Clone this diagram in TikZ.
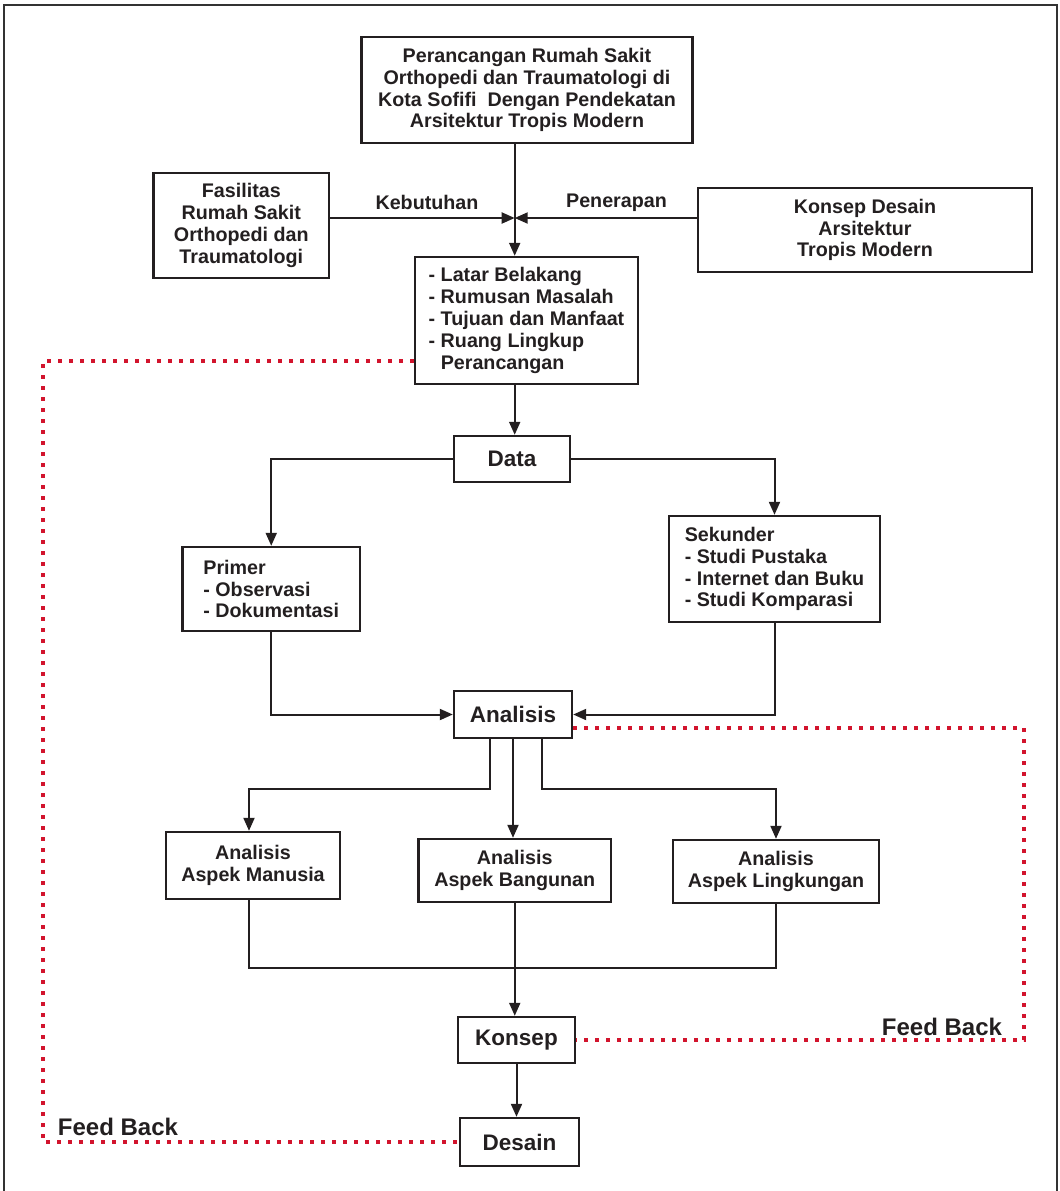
\documentclass[tikz,border=0pt]{standalone}
\usepackage{fontspec}
\setmainfont{Liberation Sans}
\usetikzlibrary{arrows.meta}
\definecolor{garis}{RGB}{35,31,32}
\definecolor{umpan}{RGB}{210,20,45}

\begin{document}
\begin{tikzpicture}[x=0.5pt, y=-0.5pt,
  every node/.style={font=\bfseries\fontsize{9.85}{10.9}\selectfont, text=garis, inner sep=0pt},
  kotak/.style={draw=garis, line width=1.2pt, align=center},
  besar/.style={font=\bfseries\fontsize{11.25}{12.5}\selectfont},
  panah/.style={draw=garis, line width=1pt, -{Triangle[length=6.5pt, width=5.5pt]}},
  garisbiasa/.style={draw=garis, line width=1pt},
  umpanbalik/.style={draw=umpan, line width=2.2pt, dash pattern=on 2.1pt off 3.4pt}]
  \useasboundingbox (0,0) rectangle (1060,1191);
  % frame
  \draw[line width=1pt, black!80] (4,1191) -- (4,4.5) -- (1057,4.5) -- (1057,1191);
  % top part
  \node[kotak, minimum width=165.5pt, minimum height=53pt] (judul) at (527,90)
    {Perancangan Rumah Sakit\\Orthopedi dan Traumatologi di\\Kota Sofifi\ \ Dengan Pendekatan\\Arsitektur Tropis Modern};
  \node[kotak, minimum width=87.7pt, minimum height=52.5pt] (fasilitas) at (241.3,225.5)
    {Fasilitas\\Rumah Sakit\\Orthopedi dan\\Traumatologi};
  \node[kotak, minimum width=167pt, minimum height=42pt] (konsepdesain) at (865,230)
    {Konsep Desain\\Arsitektur\\Tropis Modern};
  \node[kotak, align=left, minimum width=111.5pt, minimum height=63.5pt] (latar) at (526.5,320.5)
    {- Latar Belakang\\- Rumusan Masalah\\- Tujuan dan Manfaat\\- Ruang Lingkup\\\phantom{- }Perancangan};
  \coordinate (temu) at (514.7,218);
  \node (kebutuhan) at (427,202) {Kebutuhan};
  \node (penerapan) at (616.5,203) {Penerapan};
  \draw[panah] (temu |- judul.south) -- (temu |- latar.north);
  \draw[panah] (fasilitas.east |- temu) -- (temu);
  \draw[panah] (konsepdesain.west |- temu) -- (temu);
  % data
  \node[kotak, besar, minimum width=58pt, minimum height=23pt] (data) at (512,459) {Data};
  \node[kotak, align=left, minimum width=88.75pt, minimum height=42pt] (primer) at (271.25,589)
    {Primer\\- Observasi\\- Dokumentasi};
  \node[kotak, align=left, minimum width=105.5pt, minimum height=53pt] (sekunder) at (774.5,569)
    {Sekunder\\- Studi Pustaka\\- Internet dan Buku\\- Studi Komparasi};
  \draw[panah] (temu |- latar.south) -- (temu |- data.north);
  \draw[panah] (data.west) -| (primer.north);
  \draw[panah] (data.east) -| (sekunder.north);
  % analisis
  \node[kotak, besar, minimum width=59pt, minimum height=23.5pt] (analisis) at (513,714.5) {Analisis};
  \draw[panah] (primer.south) |- (analisis.west);
  \draw[panah] (sekunder.south) |- (analisis.east);
  \node[kotak, minimum width=87pt, minimum height=33.5pt] (manusia) at (253,865.5)
    {Analisis\\Aspek Manusia};
  \node[kotak, minimum width=96.25pt, minimum height=31.5pt] (bangunan) at (514.75,870.5)
    {Analisis\\Aspek Bangunan};
  \node[kotak, minimum width=103pt, minimum height=31.5pt] (lingkungan) at (776,871.5)
    {Analisis\\Aspek Lingkungan};
  \draw[panah] ([xshift=-11.5pt]analisis.south) -- ++(0,50) -| ([xshift=-2pt]manusia.north);
  \draw[panah] (analisis.south) -- (analisis.south |- bangunan.north);
  \draw[panah] ([xshift=14.5pt]analisis.south) -- ++(0,50) -| (lingkungan.north);
  % konsep dan desain
  \node[kotak, besar, minimum width=58.5pt, minimum height=23pt] (konsep) at (516.5,1040) {Konsep};
  \node[kotak, besar, minimum width=59.5pt, minimum height=24pt] (desain) at (519.5,1142) {Desain};
  \draw[garisbiasa] ([xshift=-2pt]manusia.south) -- ++(0,68) -| (lingkungan.south);
  \draw[panah] (bangunan.south) -- (bangunan.south |- konsep.north);
  \draw[panah] (konsep.south) -- (konsep.south |- desain.north);
  % feed back
  \coordinate (fbkiri) at (43,361);
  \coordinate (fbkanan) at (1024,728);
  \draw[umpanbalik] (latar.west |- fbkiri) -- (fbkiri) |- (desain.west);
  \draw[umpanbalik] (analisis.east |- fbkanan) -- (fbkanan) |- (konsep.east);
  \node[font=\bfseries\fontsize{12}{13}\selectfont] (fbkirilabel) at (118,1127) {Feed Back};
  \node[font=\bfseries\fontsize{12}{13}\selectfont] (fbkananlabel) at (942,1027) {Feed Back};
\end{tikzpicture}
\end{document}
